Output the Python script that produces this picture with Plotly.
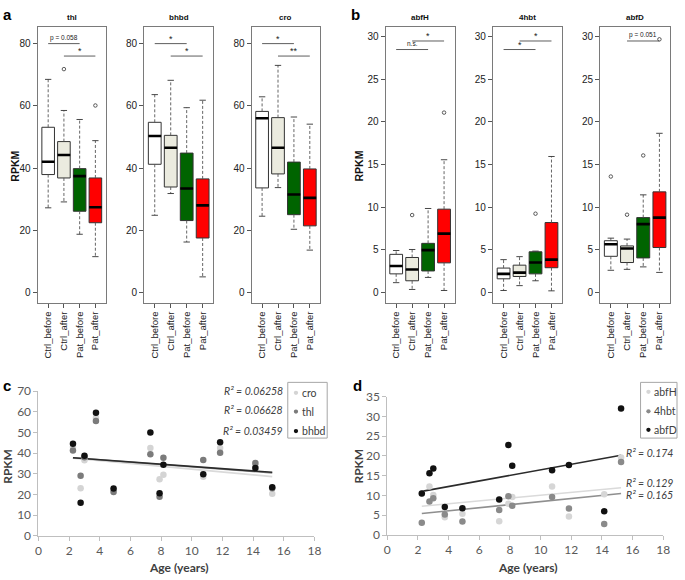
import numpy as np
import plotly.graph_objects as go

W, H = 685, 580

groups = ['Ctrl_before', 'Ctrl_after', 'Pat_before', 'Pat_after']
group_colors = ['#ffffff', '#ebebdf', '#006400', '#ff0000']

# Panel a - box statistics per group (lower whisker, q1, median, q3, upper whisker)
thl_low = [27.2, 29.1, 18.7, 11.5]
thl_q1 = [37.9, 36.8, 26.1, 22.4]
thl_med = [42.0, 44.2, 37.4, 27.4]
thl_q3 = [53.1, 48.5, 39.8, 36.8]
thl_high = [68.5, 58.5, 55.6, 48.8]
thl_out = [[], [71.8], [], [60.1]]

bhbd_low = [24.8, 31.8, 16.2, 5.0]
bhbd_q1 = [41.2, 33.9, 23.1, 17.5]
bhbd_med = [50.3, 46.5, 33.4, 28.0]
bhbd_q3 = [54.7, 50.5, 44.8, 36.5]
bhbd_high = [63.6, 68.2, 59.4, 61.8]
bhbd_out = [[], [], [], []]

cro_low = [24.5, 33.7, 20.3, 13.6]
cro_q1 = [33.6, 38.1, 25.0, 21.4]
cro_med = [56.0, 46.5, 31.5, 30.4]
cro_q3 = [58.2, 56.2, 41.9, 39.7]
cro_high = [62.9, 73.0, 56.4, 54.1]
cro_out = [[], [], [], []]

# Panel b
abfH_low = [1.15, 0.35, 1.76, 0.23]
abfH_q1 = [2.18, 1.37, 2.52, 3.47]
abfH_med = [3.1, 2.7, 4.96, 6.9]
abfH_q3 = [4.47, 4.1, 5.76, 9.77]
abfH_high = [4.92, 5.04, 9.85, 15.57]
abfH_out = [[], [9.08], [], [21.1]]

hbt_low = [0.23, 0.8, 1.37, 0.19]
hbt_q1 = [1.6, 1.87, 2.18, 2.9]
hbt_med = [2.18, 2.33, 3.51, 3.85]
hbt_q3 = [2.86, 3.2, 4.77, 8.2]
hbt_high = [3.85, 4.2, 4.85, 15.95]
hbt_out = [[], [], [9.24], []]

abfD_low = [2.6, 2.71, 3.0, 2.35]
abfD_q1 = [4.24, 3.51, 4.05, 5.27]
abfD_med = [5.65, 5.15, 8.02, 8.78]
abfD_q3 = [6.07, 5.46, 8.78, 11.8]
abfD_high = [6.37, 6.26, 11.45, 18.67]
abfD_out = [[13.6], [9.12], [16.07], [29.7]]

# significance comparisons (group a, group b, label)
thl_sig = [(1, 3, 'p = 0.058'), (2, 4, '*')]
bhbd_sig = [(1, 3, '*'), (2, 4, '*')]
cro_sig = [(1, 3, '*'), (2, 4, '**')]
abfH_sig = [(1, 3, 'n.s.'), (2, 4, '*')]
hbt_sig = [(1, 3, '*'), (2, 4, '*')]
abfD_sig = [(2, 4, 'p = 0.051')]

# Panels c and d - RPKM vs age
ages = [2.25, 2.75, 3.0, 3.75, 4.9, 7.3, 7.9, 8.15, 10.75, 11.85, 14.15, 15.25]
cro_rpkm = [43.0, 23.0, 36.5, 57.0, 22.0, 42.5, 27.3, 29.5, 28.5, 42.5, 34.0, 20.3]
thl_rpkm = [41.3, 29.0, 38.0, 55.5, 21.2, 39.4, 18.8, 37.8, 36.7, 40.2, 35.2, 23.0]
bhbd_rpkm = [44.5, 16.0, 38.7, 59.5, 22.8, 50.0, 20.5, 34.3, 29.7, 45.2, 32.8, 23.5]
c_r2 = ['R² = 0.06258', 'R² = 0.06628', 'R² = 0.03459']

abfH_rpkm = [10.5, 12.3, 10.1, 4.5, 5.4, 3.5, 7.9, 9.6, 12.3, 4.7, 10.3, 19.6]
hbt_rpkm = [3.1, 8.5, 9.3, 5.2, 3.4, 6.3, 9.8, 7.4, 9.6, 6.7, 2.8, 18.5]
abfD_rpkm = [10.5, 15.6, 16.8, 7.1, 6.8, 9.0, 22.8, 17.5, 16.4, 17.7, 6.0, 32.0]
d_r2 = ['R² = 0.129', 'R² = 0.165', 'R² = 0.174']


def px(v):
    return v / W


def py(v):
    return 1 - v / H


def label(x, y, text, size, family, color='#222', xanchor='center', **kw):
    # paper-positioned text given in pixel coordinates
    return dict(x=px(x), y=py(y), xref='paper', yref='paper', text=text,
                showarrow=False, xanchor=xanchor, yanchor='middle',
                font=dict(family=family, size=size, color=color), **kw)


R_FONT = 'Liberation Sans, Arial, sans-serif'
XL_FONT = 'Lato, Carlito, sans-serif'

top_panels = [
    ('thl', [thl_low, thl_q1, thl_med, thl_q3, thl_high], thl_out, thl_sig, 'a'),
    ('bhbd', [bhbd_low, bhbd_q1, bhbd_med, bhbd_q3, bhbd_high], bhbd_out, bhbd_sig, 'a'),
    ('cro', [cro_low, cro_q1, cro_med, cro_q3, cro_high], cro_out, cro_sig, 'a'),
    ('abfH', [abfH_low, abfH_q1, abfH_med, abfH_q3, abfH_high], abfH_out, abfH_sig, 'b'),
    ('4hbt', [hbt_low, hbt_q1, hbt_med, hbt_q3, hbt_high], hbt_out, hbt_sig, 'b'),
    ('abfD', [abfD_low, abfD_q1, abfD_med, abfD_q3, abfD_high], abfD_out, abfD_sig, 'b'),
]
frames_x = [(35.3, 104.3), (143.3, 213.3), (252.3, 322), (388.3, 458.3), (497.3, 567.3), (606, 677)]
frame_y = (19, 302.5)
y_ranges = {'a': [-3.3, 85.5], 'b': [-1.2, 31.2]}
y_ticks = {'a': [0, 20, 40, 60, 80], 'b': [0, 5, 10, 15, 20, 25, 30]}
sig_levels = {'a': {(1, 3): 80, (2, 4): 76}, 'b': {(1, 3): 28.5, (2, 4): 29.5}}

fig = go.Figure()
layout = dict(width=W, height=H, margin=dict(l=0, r=0, t=0, b=0),
              paper_bgcolor='white', plot_bgcolor='white', showlegend=False,
              boxmode='overlay')
annotations = []
shapes = []

for i, (title, stats, outs, sig, panel) in enumerate(top_panels, start=1):
    xa = 'x' if i == 1 else f'x{i}'
    ya = 'y' if i == 1 else f'y{i}'
    low, q1, med, q3, high = stats
    pos = [1, 2, 3, 4]

    # dashed whiskers
    wx, wy = [], []
    for g in range(4):
        wx += [pos[g], pos[g], None, pos[g], pos[g], None]
        wy += [q3[g], high[g], None, q1[g], low[g], None]
    fig.add_trace(go.Scatter(x=wx, y=wy, mode='lines', xaxis=xa, yaxis=ya,
                             line=dict(color='#555', width=0.9, dash='3px,2px'),
                             hoverinfo='skip'))
    # whisker caps
    cx, cy = [], []
    for g in range(4):
        for v in (low[g], high[g]):
            cx += [pos[g] - 0.2, pos[g] + 0.2, None]
            cy += [v, v, None]
    fig.add_trace(go.Scatter(x=cx, y=cy, mode='lines', xaxis=xa, yaxis=ya,
                             line=dict(color='#333', width=0.9), hoverinfo='skip'))
    # boxes
    for g in range(4):
        fig.add_trace(go.Box(x=[pos[g]], q1=[q1[g]], median=[med[g]], q3=[q3[g]],
                             lowerfence=[q1[g]], upperfence=[q3[g]],
                             width=0.8, whiskerwidth=0, boxpoints=False,
                             fillcolor=group_colors[g],
                             line=dict(color='#333', width=1),
                             xaxis=xa, yaxis=ya, hoverinfo='skip'))
    # thick medians
    mx, my = [], []
    for g in range(4):
        mx += [pos[g] - 0.4, pos[g] + 0.4, None]
        my += [med[g], med[g], None]
    fig.add_trace(go.Scatter(x=mx, y=my, mode='lines', xaxis=xa, yaxis=ya,
                             line=dict(color='#000', width=2.6), hoverinfo='skip'))
    # outliers
    ox, oy = [], []
    for g in range(4):
        for v in outs[g]:
            ox.append(pos[g])
            oy.append(v)
    fig.add_trace(go.Scatter(x=ox, y=oy, mode='markers', xaxis=xa, yaxis=ya,
                             marker=dict(symbol='circle-open', size=3.5,
                                         color='#333', line=dict(width=0.8)),
                             hoverinfo='skip'))
    # significance brackets
    for a, b, txt in sig:
        level = sig_levels[panel][(a, b)]
        fig.add_trace(go.Scatter(x=[a, b], y=[level, level], mode='lines',
                                 xaxis=xa, yaxis=ya,
                                 line=dict(color='#333', width=0.8), hoverinfo='skip'))
        small = txt.startswith('p') or txt == 'n.s.'
        annotations.append(dict(x=(a + b) / 2, y=level, xref=xa, yref=ya,
                                text=txt, showarrow=False, xanchor='center',
                                yanchor='middle', yshift=6 if small else 5,
                                font=dict(family=R_FONT, size=6.5 if small else 9,
                                          color='#222')))

    x0, x1 = frames_x[i - 1]
    axis_common = dict(showline=True, mirror=True, linecolor='#7a7a7a', linewidth=1.2,
                       ticks='outside', ticklen=4, tickcolor='#555', tickwidth=0.8,
                       showgrid=False, zeroline=False, fixedrange=True)
    layout['xaxis' if i == 1 else f'xaxis{i}'] = dict(
        domain=[px(x0), px(x1)], range=[0.34, 4.66], anchor=ya,
        tickvals=pos, ticktext=groups, tickangle=-90,
        tickfont=dict(family=R_FONT, size=9.5, color='#222'), **axis_common)
    layout['yaxis' if i == 1 else f'yaxis{i}'] = dict(
        domain=[py(frame_y[1]), py(frame_y[0])], range=y_ranges[panel], anchor=xa,
        tickvals=y_ticks[panel], tickfont=dict(family=R_FONT, size=10, color='#222'),
        **axis_common)
    annotations.append(label((x0 + x1) / 2, 10, f'<b>{title}</b>', 8, R_FONT, '#111'))

# RPKM labels and panel letters
for xp in (12, 361):
    annotations.append(label(xp, 162, '<b>RPKM</b>', 10.5, R_FONT, '#111', textangle=-90))
for xp, ypix, letter in ((5, 7, 'a'), (358, 7, 'b'), (4, 388, 'c'), (360, 388, 'd')):
    annotations.append(label(xp, ypix, f'<b>{letter}</b>', 15, 'Liberation Sans, Arial', '#000'))

# Scatter panels
scatter_panels = [
    (7, [('cro', cro_rpkm, '#d4d4d4'), ('thl', thl_rpkm, '#7b7b7b'), ('bhbd', bhbd_rpkm, '#111111')],
     (36, 316), (393.3, 541.7), [0, 70], 10),
    (8, [('abfH', abfH_rpkm, '#d6d6d6'), ('4hbt', hbt_rpkm, '#8a8a8a'), ('abfD', abfD_rpkm, '#111111')],
     (390, 670), (399, 541), [0, 35], 5),
]
line_colors = {'#d4d4d4': '#dadada', '#7b7b7b': '#8a8a8a', '#111111': '#2b2b2b',
               '#d6d6d6': '#dadada', '#8a8a8a': '#8f8f8f'}
for idx, series, (x0, x1), (y0, y1), yr, dt in scatter_panels:
    xa, ya = f'x{idx}', f'y{idx}'
    ages_arr = np.array(ages)
    for name, vals, col in series:
        slope, icpt = np.polyfit(ages_arr, np.array(vals), 1)
        xs = [ages_arr.min(), ages_arr.max()]
        fig.add_trace(go.Scatter(x=xs, y=[slope * v + icpt for v in xs], mode='lines',
                                 xaxis=xa, yaxis=ya, hoverinfo='skip',
                                 line=dict(color=line_colors[col], width=1.6)))
    for name, vals, col in series:
        fig.add_trace(go.Scatter(x=ages, y=vals, mode='markers', name=name,
                                 xaxis=xa, yaxis=ya,
                                 marker=dict(color=col, size=6.5)))
    ax_common = dict(showline=True, linecolor='#bfbfbf', linewidth=1, ticks='outside',
                     ticklen=4, tickcolor='#bfbfbf', showgrid=False, zeroline=False,
                     fixedrange=True, tickfont=dict(family=XL_FONT, size=12, color='#595959'))
    layout[f'xaxis{idx}'] = dict(domain=[px(x0), px(x1)], range=[0, 18], dtick=2,
                                 tick0=0, anchor=ya, **ax_common)
    layout[f'yaxis{idx}'] = dict(domain=[py(y1), py(y0)], range=yr, dtick=dt,
                                 tick0=0, anchor=xa, **ax_common)
    annotations.append(label((x0 + x1) / 2 + 3, 574, '<b>Age (years)</b>', 12, XL_FONT, '#404040'))
    annotations.append(label(x0 - 31 if idx == 7 else x0 - 29, 470, '<b>RPKM</b>', 12,
                             XL_FONT, '#404040', textangle=-90))

    # legend box (drawn by hand to keep it narrow like the original)
    lx0, lx1 = (289, 329) if idx == 7 else (647, 684)
    shapes.append(dict(type='rect', xref='paper', yref='paper', x0=px(lx0), x1=px(lx1),
                       y0=py(441.5), y1=py(384.3), line=dict(color='#a6a6a6', width=1)))
    mxp = 297.3 if idx == 7 else 655
    for k, (name, vals, col) in enumerate(series):
        yy = [395, 414.3, 434.3][k] if idx == 7 else [394, 414, 433][k]
        shapes.append(dict(type='circle', xref='paper', yref='paper',
                           x0=px(mxp - 2.2), x1=px(mxp + 2.2), y0=py(yy + 2.2), y1=py(yy - 2.2),
                           fillcolor=col, line=dict(width=0)))
        annotations.append(label(mxp + 4, yy, name, 10.5, XL_FONT, '#404040', xanchor='left'))

# R² labels
for k, txt in enumerate(c_r2):
    annotations.append(label(286, [393.3, 412.7, 434][k], f'<i>{txt}</i>', 10.5, XL_FONT,
                             '#404040', xanchor='right'))
for k, txt in enumerate(d_r2):
    annotations.append(label(630, [488, 499.5, 457][k], f'<i>{txt}</i>', 10.5, XL_FONT,
                             '#404040', xanchor='left'))

layout['annotations'] = annotations
layout['shapes'] = shapes
fig.update_layout(**layout)
fig.write_html('out.html', config={'displayModeBar': False},
               post_script="document.body.style.margin='0';document.body.style.overflow='hidden';")
